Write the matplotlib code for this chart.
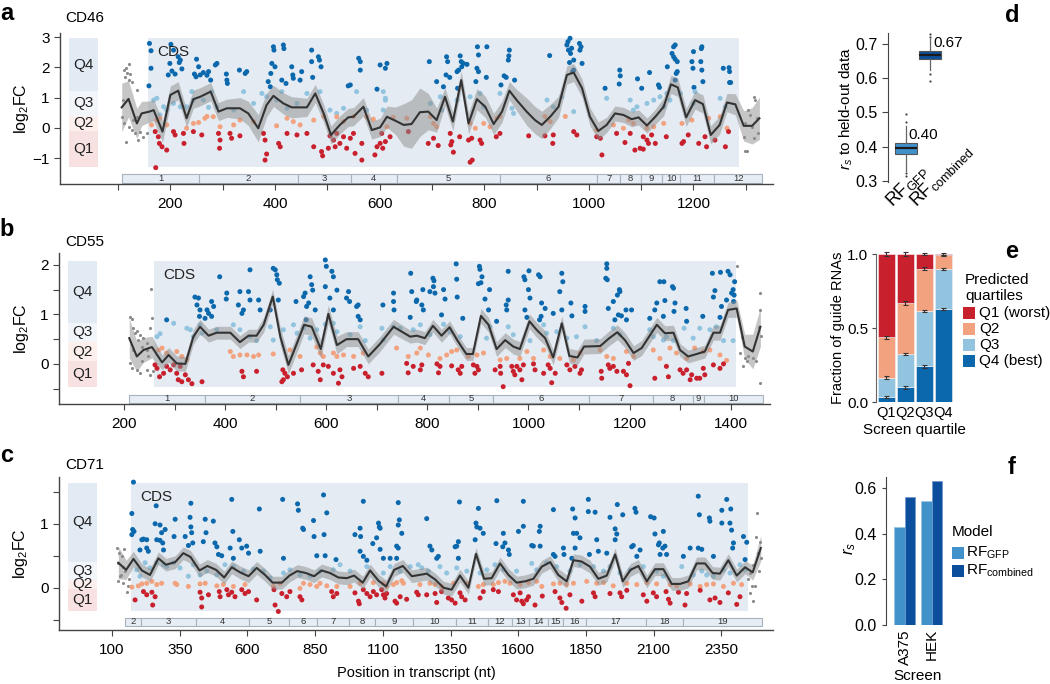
import matplotlib
matplotlib.use('Agg')
import matplotlib.pyplot as plt
from matplotlib.patches import Rectangle
import matplotlib.transforms as mtransforms
import numpy as np

plt.rcParams['font.family'] = ['Liberation Sans', 'DejaVu Sans']
plt.rcParams['mathtext.fontset'] = 'custom'
plt.rcParams['mathtext.rm'] = 'Liberation Sans'
plt.rcParams['mathtext.it'] = 'Liberation Sans:italic'
plt.rcParams['mathtext.bf'] = 'Liberation Sans:bold'

# ----------------------------------------------------------------- data
# panel a: CD46 (position nt, log2FC)
points_a = [
    (107,0.35),(109,0.92),(112,1.91),(112,0.15),(113,1.69),(115,1.97),(115,-0.45),(117,1.83),(120,2.10),(120,1.58),(120,0.04),
    (123,1.78),(126,1.53),(126,-0.07),(129,0.26),(133,-0.18),(136,1.25),(136,0.37),(139,-0.40),(142,-0.12),(148,-0.29),(155,-0.18),
    (160,2.79),(163,2.55),(163,1.97),(159,1.39),(201,2.76),(206,2.57),(215,2.35),(219,2.24),(217,2.16),(222,1.95),(199,2.13),(203,1.88),
    (209,1.78),(196,1.75),(250,2.27),(254,2.02),(246,1.78),(249,1.69),(257,1.75),(263,1.83),(270,1.74),(273,1.86),(277,1.58),(286,2.08),
    (289,2.13),(307,1.78),(308,1.58),(309,1.47),(332,1.91),(343,1.80),(346,1.86),(397,2.68),(398,2.57),(400,2.02),(394,2.13),(392,1.80),
    (387,1.53),(391,1.36),(416,2.74),(417,2.62),(413,1.58),(421,1.47),(432,2.02),(434,1.75),(435,1.64),(451,1.86),(448,1.58),(470,2.57),
    (470,2.19),(472,1.67),(483,2.35),(485,2.24),(488,2.02),(560,2.30),(563,2.19),(563,1.91),(544,1.42),(540,1.39),(601,2.08),(595,1.28),
    (168,0.92),(174,0.98),(187,0.70),(193,0.59),(180,0.43),(206,0.81),(219,0.70),(231,0.70),(244,0.92),(241,1.20),(263,0.92),(273,0.68),
    (279,1.20),(289,0.70),(321,0.59),(340,1.20),(359,0.81),(375,1.14),(384,1.03),(403,0.92),(413,1.20),(423,0.65),(442,0.81),(461,1.14),
    (486,1.20),(505,0.59),(518,0.48),(531,0.65),(556,1.20),(575,0.59),(611,0.98),
    (164,0.10),(174,0.26),(180,0.32),(193,0.10),(231,-0.01),(244,0.15),(254,0.18),(266,0.32),(270,0.38),(282,0.37),(295,0.04),(321,0.10),
    (333,0.26),(359,0.21),(403,0.07),(423,0.32),(435,0.21),(448,0.10),(474,0.26),(493,0.38),(518,0.37),(531,0.21),(550,0.38),(575,0.37),
    (588,0.29),(626,0.35),
    (171,-0.12),(177,-0.29),(179,-0.51),(184,-0.62),(193,-0.73),(172,-1.31),(206,-0.12),(209,-0.23),(225,-0.18),(226,-0.51),(244,-0.12),
    (260,-0.23),(292,-0.18),(294,-0.67),(295,-0.40),(314,-0.18),(317,-0.34),(333,-0.26),(378,-0.18),(381,-0.40),(384,-0.86),(381,-1.06),
    (407,-0.51),(410,-0.62),(423,-0.18),(442,-0.23),(461,-0.18),(474,-0.62),(489,-0.78),(491,-0.92),(502,-0.67),(505,-0.26),(512,-0.40),
    (515,-0.62),(518,-0.18),(524,-0.51),(531,-0.29),(537,-0.67),(544,-0.34),(550,-0.18),(553,-0.84),(566,-1.06),(566,-0.51),(591,-0.89),
    (595,-0.62),(601,-0.51),(620,-0.29),
    (611,1.97),(614,2.13),(695,2.19),(709,1.53),(722,1.36),(728,2.35),(730,2.19),(727,1.75),(734,1.67),(754,2.38),(756,2.19),(748,1.86),
    (751,1.91),(757,2.02),(760,2.13),(767,2.10),(749,1.31),(787,2.68),(789,2.41),(786,1.97),(789,1.86),(784,1.53),(805,2.68),(804,1.67),
    (838,1.72),(842,1.67),(832,1.42),(848,2.57),(847,2.38),(846,2.24),(858,1.58),(925,2.39),(958,2.74),(960,2.85),(964,2.96),(961,2.57),
    (967,2.63),(965,2.46),(963,2.16),(971,2.24),(982,2.79),(983,2.57),(985,2.68),(987,2.13),(971,1.91),(969,1.86),(1031,1.31),(1059,1.91),
    (1060,1.72),(1058,1.45),(1093,1.62),(1101,1.31),(1116,1.83),(1133,1.42),(1135,1.34),(1150,2.02),(1162,2.68),(1165,2.74),(1159,2.46),
    (1162,2.35),(1165,2.27),(1169,2.19),(1167,1.80),(1169,1.86),(1165,1.58),(1197,2.19),(1199,1.97),(1200,2.52),(1216,2.68),(1215,2.62),
    (1214,2.19),(1216,1.91),(1218,1.53),(1201,1.34),(1257,1.97),(1268,1.99),(1269,1.86),(1269,1.50),(1271,1.50),
    (607,1.20),(611,0.92),(607,0.59),(697,0.81),(716,1.03),(719,0.59),(748,0.92),(773,1.03),(792,1.14),(799,0.70),(830,1.14),(853,0.65),
    (856,0.48),(920,0.92),(932,0.70),(948,1.03),(971,0.54),(1034,0.98),(1079,0.92),(1085,0.59),(1092,0.70),(1111,0.81),(1124,0.92),
    (1136,1.03),(1143,0.70),(1149,1.14),(1155,0.92),(1175,1.14),(1200,0.81),(1203,1.20),(1251,0.98),(1261,0.70),
    (614,0.04),(652,0.32),(697,0.37),(703,0.15),(709,0.04),(773,0.15),(783,-0.01),(799,0.15),(811,0.04),(824,0.32),(830,0.38),(916,0.38),
    (926,0.21),(955,0.38),(1015,-0.07),(1047,0.10),(1066,-0.01),(1076,0.26),(1085,0.15),(1111,-0.01),(1124,0.04),(1143,0.15),(1178,0.15),
    (1197,0.26),(1229,0.32),(1251,0.37),(1264,-0.01),
    (604,-0.18),(606,-0.67),(611,-0.45),(655,-0.12),(693,-0.51),(703,-0.34),(712,-0.58),(735,-0.18),(738,-0.45),(741,-0.80),(736,-0.56),
    (753,-0.29),(773,-1.13),(777,-1.06),(770,-0.40),(776,-0.34),(792,-0.40),(795,-0.51),(823,-0.29),(830,-0.18),(885,-0.26),(916,-0.26),
    (931,-0.51),(932,-0.23),(971,-0.12),(977,-0.23),(1015,-0.29),(1025,-0.89),(1022,-0.34),(1053,-0.18),(1069,-0.48),(1079,-0.18),
    (1088,-0.73),(1098,-0.67),(1104,-0.70),(1104,-0.29),(1111,-0.40),(1114,-0.51),(1120,-0.23),(1127,-0.51),(1148,-0.29),(1178,-0.51),
    (1181,-0.45),(1190,-0.23),(1210,-0.51),(1222,-0.29),(1225,-0.62),(1241,-0.40),(1261,-0.62),(1267,-0.12),
    (1315,1.03),(1305,0.59),(1308,0.43),(1321,0.32),(1299,0.15),(1312,0.04),(1324,-0.18),(1296,-0.29),(1315,-0.34),(1299,-0.75),
    (1302,-0.76),(1318,0.92),
]
# smoothed trend: (position, mean log2FC, half width of band)
trend_a = [
    (107,0.68,0.8),(120,0.96,0.6),(136,0.15,0.5),(145,0.48,0.4),(160,0.54,0.35),(168,0.59,0.35),(185,-0.12,0.35),(200,1.09,0.3),
    (215,1.23,0.3),(231,0.32,0.3),(244,0.95,0.3),(257,1.03,0.3),(277,1.20,0.3),(292,0.54,0.3),(308,0.65,0.3),(333,0.65,0.35),
    (349,0.48,0.4),(368,-0.01,0.45),(384,0.76,0.4),(397,1.06,0.35),(416,0.81,0.35),(432,0.68,0.35),(461,0.68,0.3),(477,1.14,0.3),
    (493,0.48,0.3),(507,-0.23,0.3),(524,0.10,0.3),(540,0.35,0.3),(550,0.37,0.3),(569,0.70,0.3),(585,-0.07,0.3),(601,0.02,0.3),
    (614,0.37,0.35),(630,0.24,0.45),(646,0.10,0.7),(661,0.13,0.8),(677,0.52,0.8),(693,0.54,0.6),(709,0.26,0.4),(725,1.03,0.3),
    (740,0.21,0.3),(756,1.58,0.3),(770,0.15,0.35),(786,0.95,0.35),(802,0.70,0.35),(818,0.13,0.35),(834,0.54,0.35),(848,1.23,0.3),
    (862,0.92,0.35),(881,0.54,0.45),(897,0.26,0.45),(910,0.10,0.45),(926,0.37,0.4),(942,0.70,0.35),(958,1.75,0.3),(971,1.83,0.3),
    (987,1.31,0.3),(1002,0.37,0.3),(1018,-0.10,0.3),(1034,0.10,0.25),(1050,0.48,0.25),(1066,0.43,0.25),(1082,0.29,0.25),
    (1095,0.35,0.25),(1111,0.08,0.25),(1127,0.37,0.25),(1143,0.70,0.3),(1157,1.44,0.3),(1170,1.34,0.3),(1186,0.35,0.3),
    (1203,0.92,0.3),(1218,0.79,0.3),(1233,-0.23,0.3),(1250,0.10,0.3),(1264,0.84,0.3),(1280,0.78,0.35),(1296,0.07,0.5),
    (1312,0.07,0.6),(1326,0.32,0.7),
]
cds_a = (157, 1287)
quartiles_a = [-1.29, -0.10, 0.40, 1.22, 2.97]
exons_a = [108, 255, 444, 545, 633, 830, 1016, 1060, 1100, 1140, 1175, 1240, 1331]

# panel b: CD55
points_b = [
    (212,0.94),(215,0.90),(218,0.72),(225,0.67),(222,0.62),(232,0.59),(228,0.48),(238,0.52),(245,0.42),(235,0.35),(245,0.28),(251,0.72),
    (255,0.92),(253,1.51),(215,-0.09),(225,-0.12),(232,-0.19),(245,-0.12),(251,-0.22),(257,-0.15),(218,0.28),(248,0.15),(212,0.01),(235,0.05),
    (284,0.89),(340,1.35),(347,1.33),(344,1.19),(350,1.09),(349,0.96),(364,1.09),(367,1.02),(360,0.92),(373,1.26),(377,1.16),(373,0.96),
    (403,1.43),(402,1.31),(389,1.76),(429,1.46),(426,1.19),(433,1.02),(436,1.09),(446,1.46),(449,1.90),(449,1.29),(466,1.29),(469,1.09),
    (495,1.93),(499,1.90),(502,1.80),(503,1.70),(507,1.63),(489,1.09),(505,1.29),(540,1.26),(555,1.36),(558,1.43),(561,1.16),(560,0.89),
    (568,1.76),(571,1.60),(573,1.49),(565,1.23),(578,1.09),(598,2.10),(600,1.97),(598,1.56),(607,1.33),(611,1.87),(614,1.76),(621,1.49),
    (614,1.09),(640,1.33),(644,1.46),(646,1.26),(660,1.16),(663,0.96),(667,0.89),(663,1.19),(712,1.19),
    (265,0.55),(271,0.61),(298,0.82),(324,0.72),(331,0.69),(337,0.55),(350,0.79),(354,0.62),(383,0.69),(416,0.79),(429,0.69),(449,0.55),
    (462,0.47),(489,0.75),(495,0.48),(515,0.69),(535,0.79),(542,0.62),(555,0.72),(568,0.52),(581,0.69),(598,0.80),(614,0.82),(621,0.65),
    (647,0.59),(667,0.75),(677,0.47),(713,0.48),(733,0.75),
    (268,0.28),(275,0.32),(284,0.22),(304,0.25),(314,0.15),(324,0.08),(410,0.25),(416,0.15),(429,0.18),(443,0.18),(456,0.15),(466,0.18),
    (495,0.20),(528,0.28),(548,0.15),(581,0.34),(588,0.22),(594,0.15),(614,0.22),(621,0.15),(634,0.18),(654,0.15),(673,0.22),
    (261,-0.02),(265,-0.09),(270,-0.26),(278,-0.19),(284,-0.05),(291,-0.12),(298,-0.02),(304,-0.19),(311,-0.05),(307,-0.32),(314,-0.36),
    (321,-0.22),(327,-0.32),(334,-0.40),(354,-0.36),(433,-0.15),(436,-0.26),(462,-0.15),(514,-0.12),(518,-0.19),(523,-0.26),(515,-0.32),
    (512,-0.36),(535,-0.19),(551,-0.12),(574,-0.02),(584,-0.15),(588,-0.32),(594,-0.02),(604,-0.05),(614,-0.19),(624,-0.39),(627,-0.12),
    (631,-0.26),(654,-0.09),(667,-0.05),(677,-0.19),(683,-0.26),
    (733,1.43),(733,1.26),(734,1.09),(767,1.83),(769,1.46),(766,0.94),(779,1.29),(778,1.26),(791,1.50),(789,1.19),(792,1.09),(805,1.46),
    (811,1.73),(813,1.68),(812,1.56),(815,1.43),(832,1.50),(835,1.31),(828,0.99),(857,2.02),(858,1.71),(859,1.35),(870,0.92),(903,1.97),
    (904,1.91),(908,1.76),(906,1.64),(901,1.62),(914,1.31),(923,1.50),(921,1.09),(937,0.86),(960,1.87),(960,1.29),(956,1.19),(957,1.09),
    (991,1.76),(993,1.70),(1001,1.88),(1000,1.50),(1003,1.33),(993,1.09),(997,0.94),(1020,1.80),(1023,1.76),(1026,1.23),(1022,0.89),
    (1025,0.96),(1033,1.12),(1049,1.02),(1066,1.83),(1068,1.66),(1062,1.46),(1066,1.09),(1084,1.23),(1086,0.97),(1112,1.16),(1112,1.06),
    (1155,2.02),(1155,1.93),(1153,1.73),(1156,1.70),(1158,1.12),(1168,1.26),(1176,1.39),(1180,1.50),(1181,1.46),(1171,0.89),(1178,0.99),
    (1184,0.97),(1194,0.89),(1204,1.09),(1193,1.09),(1240,0.92),(1250,1.09),(1254,1.23),(1260,1.66),(1268,1.66),(1270,1.28),(1267,0.96),
    (1285,1.56),(1287,1.53),(1290,1.23),(1288,1.06),(1312,1.12),(1313,0.86),(1345,0.96),(1364,1.83),(1369,1.48),(1366,1.35),(1380,1.85),
    (1382,1.16),(1379,0.94),(1395,1.87),(1399,1.80),(1402,1.43),(1405,1.50),(1406,1.26),(1408,1.66),(1407,1.39),(1392,1.29),
    (710,0.72),(746,0.72),(772,0.69),(786,0.79),(805,0.59),(832,0.80),(845,0.65),(865,0.55),(917,0.52),(924,0.75),(960,0.75),(970,0.59),
    (1003,0.47),(1030,0.79),(1036,0.62),(1056,0.65),(1076,0.52),(1095,0.55),(1112,0.75),(1135,0.47),(1168,0.72),(1181,0.59),(1240,0.69),
    (1247,0.55),(1267,0.48),(1273,0.55),(1287,0.47),(1308,0.72),(1326,0.52),(1339,0.72),(1359,0.69),(1372,0.75),(1386,0.47),(1405,0.47),
    (739,0.32),(762,0.15),(779,0.22),(786,0.32),(802,0.18),(825,0.11),(838,0.18),(848,0.25),(858,0.28),(881,0.15),(898,0.18),(911,0.22),
    (944,0.08),(957,0.11),(983,0.11),(997,0.25),(1010,0.11),(1030,0.28),(1043,0.15),(1062,0.11),(1089,0.08),(1102,0.22),(1142,0.28),
    (1155,0.15),(1168,0.11),(1194,0.25),(1208,0.15),(1247,0.28),(1260,0.11),(1280,0.32),(1293,0.22),(1313,0.11),(1329,0.32),(1346,0.25),
    (1359,0.28),(1379,0.18),(1392,0.07),
    (710,-0.19),(759,0.01),(762,-0.18),(772,-0.05),(786,-0.12),(789,-0.02),(819,0.00),(822,-0.18),(825,-0.05),(848,-0.04),(861,-0.12),
    (865,-0.19),(868,-0.05),(891,-0.02),(894,-0.19),(898,-0.05),(901,-0.12),(934,-0.12),(944,-0.05),(945,-0.19),(950,-0.46),(967,-0.05),
    (970,-0.15),(973,-0.22),(977,-0.05),(983,-0.12),(987,-0.32),(990,-0.02),(1010,0.00),(1013,-0.12),(1030,-0.19),(1039,-0.02),
    (1043,-0.09),(1046,-0.38),(1053,-0.19),(1076,-0.02),(1082,-0.12),(1092,-0.05),(1102,-0.19),(1105,-0.12),(1144,-0.15),(1145,-0.29),
    (1158,-0.02),(1161,-0.09),(1168,-0.05),(1175,-0.15),(1188,-0.15),(1194,-0.22),(1201,-0.44),(1198,0.01),(1250,-0.29),(1273,-0.05),
    (1277,-0.26),(1300,-0.12),(1306,-0.19),(1313,-0.12),(1320,-0.32),(1323,-0.22),(1333,-0.29),(1339,-0.29),(1346,-0.09),(1349,-0.22),
    (1366,-0.02),(1386,0.00),(1379,-0.09),
    (1412,1.97),(1458,1.44),(1459,1.08),(1457,0.75),(1461,0.57),(1422,0.55),(1418,0.22),(1428,0.11),(1432,0.05),(1425,-0.05),
    (1451,0.05),(1458,-0.39),(1445,0.11),(1435,0.15),
]
trend_b = [
    (210,0.52,0.40),(225,0.15,0.30),(238,0.28,0.25),(255,0.34,0.22),(275,0.03,0.15),(288,0.18,0.15),(304,0.01,0.15),(321,0.00,0.15),
    (337,0.55,0.15),(350,0.75,0.15),(367,0.57,0.13),(383,0.63,0.13),(410,0.63,0.13),(429,0.44,0.13),(446,0.57,0.13),(462,0.57,0.13),
    (476,0.79,0.15),(494,1.36,0.15),(509,0.55,0.18),(525,-0.02,0.18),(542,0.42,0.18),(556,0.79,0.18),(571,0.75,0.18),(589,0.30,0.18),
    (604,1.01,0.18),(621,0.38,0.18),(640,0.50,0.15),(663,0.50,0.15),(683,0.15,0.15),(706,0.40,0.15),(733,0.75,0.15),(766,0.55,0.13),
    (779,0.57,0.13),(795,0.52,0.13),(811,0.77,0.13),(828,0.57,0.13),(844,0.74,0.13),(859,0.48,0.13),(877,0.20,0.13),(890,0.20,0.13),
    (906,0.97,0.15),(921,0.79,0.15),(937,0.30,0.15),(954,0.48,0.15),(970,0.35,0.15),(983,0.30,0.15),(1002,0.86,0.15),(1016,0.69,0.15),
    (1033,0.52,0.15),(1049,0.13,0.15),(1066,0.82,0.15),(1081,0.16,0.15),(1097,0.13,0.15),(1110,0.35,0.15),(1142,0.36,0.15),
    (1160,0.52,0.15),(1176,0.64,0.15),(1191,0.48,0.15),(1208,0.22,0.15),(1224,0.32,0.15),(1254,0.79,0.15),(1270,0.62,0.15),
    (1287,0.63,0.15),(1300,0.28,0.13),(1316,0.15,0.13),(1333,0.20,0.13),(1349,0.25,0.13),(1366,0.63,0.15),(1379,0.63,0.15),
    (1395,1.09,0.15),(1412,1.12,0.18),(1428,0.35,0.25),(1444,0.25,0.35),(1459,0.75,0.40),
]
cds_b = (259, 1410)
quartiles_b = [-0.46, 0.05, 0.45, 0.83, 2.08]
exons_b = [210, 360, 548, 742, 843, 930, 1120, 1246, 1325, 1347, 1464]

# panel c: CD71
points_c = [
    (120,0.62),(127,0.54),(144,0.60),(136,0.49),(123,0.39),(139,0.33),(148,0.26),(130,0.18),(123,0.10),(142,0.07),(160,0.02),(154,-0.06),
    (132,0.20),(164,0.13),
    (179,1.65),(173,1.16),(176,0.91),(181,0.88),(173,0.83),(203,0.59),(210,0.75),(216,0.76),(228,0.75),(228,0.62),(234,0.57),(259,1.00),
    (263,1.28),(277,0.98),(283,0.86),(265,0.75),(277,0.74),(287,0.70),(296,0.91),(290,0.59),(333,1.07),(329,0.80),(370,0.80),(388,1.10),
    (391,1.32),(391,0.95),(394,0.86),(398,0.70),(382,0.66),(437,0.72),(444,1.07),(447,0.86),(474,1.04),(480,0.70),(487,0.64),(493,0.52),
    (505,0.50),(536,0.62),(542,1.38),(546,0.88),(548,0.46),(570,0.75),(579,0.62),(597,0.65),(604,0.54),(644,1.23),(647,0.57),(730,1.38),
    (733,0.46),(785,1.31),(788,1.21),(804,0.93),(807,0.91),(844,1.05),(846,0.80),(856,0.50),(881,1.45),(883,0.83),(887,0.50),(893,1.17),
    (927,0.44),(997,0.83),(1016,0.93),(1018,0.80),(1028,1.35),(1016,0.57),(1028,0.49),(1041,0.43),(1063,0.69),(1077,0.78),(1084,1.01),
    (1087,0.95),(1090,0.60),(1102,0.46),(1127,0.46),
    (1157,1.33),(1161,1.06),(1157,0.98),(1170,0.85),(1151,0.65),(1157,0.62),(1151,0.46),(1090,0.93),(1262,1.08),(1274,0.65),(1281,0.59),
    (1299,0.46),(1305,0.49),(1383,1.34),(1379,0.72),(1373,0.65),(1367,0.64),(1379,0.46),(1441,0.75),(1444,1.01),(1447,0.95),(1453,1.24),
    (1459,0.93),(1471,0.85),(1521,1.36),(1518,0.69),(1545,0.85),(1551,0.70),(1543,0.64),(1564,0.59),(1567,0.52),(1601,0.88),(1619,1.35),
    (1619,0.96),(1650,0.66),(1656,0.65),(1681,0.96),(1678,0.88),(1681,0.65),(1730,1.22),(1730,0.52),(1736,0.49),(1767,0.62),(1769,0.52),
    (1801,1.23),(1810,1.09),(1804,0.85),(1816,0.85),(1828,0.78),(1810,0.62),(1798,0.46),(1859,1.38),(1859,1.19),(1884,1.18),(1863,0.52),
    (1890,0.75),(1896,0.57),(1927,0.54),(1939,1.10),(1958,0.92),(1964,0.84),(1966,1.30),(1958,0.75),(1986,1.14),(2019,0.64),(2025,0.66),
    (2031,1.24),(2035,1.18),(2038,0.49),(2050,0.59),(2089,1.11),(2102,1.09),(2105,0.84),(2118,0.67),(2124,0.52),(2136,0.88),(2121,0.70),
    (2134,0.62),(2142,0.65),(2148,0.52),(2210,0.49),(2235,0.62),(2265,1.43),(2269,1.14),(2265,0.62),(2278,0.60),(2306,1.09),(2308,1.04),
    (2321,0.49),(2352,1.21),(2370,1.38),(2385,1.23),(2352,1.01),(2382,1.01),(2388,0.90),(2395,0.70),(2392,0.62),(2432,0.80),(2444,0.71),
    (2438,0.44),
    (191,0.28),(203,0.18),(222,0.39),(240,0.31),(265,0.39),(290,0.36),(302,0.33),(327,0.39),(351,0.31),(382,0.18),(400,0.36),(425,0.20),
    (450,0.26),(487,0.20),(517,0.36),(548,0.33),(585,0.26),(622,0.29),(659,0.26),(684,0.15),(733,0.23),(757,0.28),(794,0.20),(831,0.18),
    (868,0.26),(917,0.28),(942,0.36),(979,0.26),(1041,0.33),
    (1102,0.23),(1127,0.33),(1164,0.26),(1201,0.33),(1231,0.36),(1244,0.31),(1268,0.26),(1311,0.33),(1336,0.23),(1373,0.31),(1410,0.26),
    (1459,0.23),(1484,0.28),(1514,0.36),(1545,0.28),(1594,0.26),(1650,0.38),(1668,0.28),(1705,0.39),(1742,0.33),(1791,0.26),(1828,0.36),
    (1878,0.33),(1915,0.26),(1939,0.33),(1976,0.23),(2013,0.28),(2062,0.33),(2111,0.26),(2136,0.18),(2204,0.33),(2247,0.20),(2278,0.26),
    (2296,0.20),(2321,0.18),(2358,0.28),(2382,0.23),(2419,0.36),(2438,0.28),
    (173,0.01),(197,0.03),(210,0.06),(228,0.07),(247,0.10),(265,0.05),(283,0.07),(333,0.07),(339,0.05),(382,0.02),(425,0.06),(444,0.07),
    (487,0.03),(511,0.05),(548,0.02),(591,0.05),(696,0.02),(720,0.07),(794,-0.01),(807,0.07),(831,0.05),(856,0.02),(868,0.07),(893,0.03),
    (930,0.02),(979,0.02),(1016,0.07),(1065,0.08),(1102,0.07),(1151,0.08),
    (1114,0.02),(1139,0.05),(1170,0.11),(1176,0.07),(1237,0.05),(1274,0.07),(1293,0.05),(1317,0.02),(1361,0.07),(1410,0.07),(1453,0.02),
    (1471,0.05),(1508,0.05),(1527,0.08),(1551,0.10),(1570,0.07),(1607,0.05),(1638,0.08),(1668,0.10),(1687,0.02),(1730,0.06),(1754,0.07),
    (1779,0.05),(1804,0.07),(1853,0.10),(1890,0.07),(1915,0.08),(1951,0.03),(2001,0.07),(2038,0.05),(2075,0.08),(2111,0.06),(2161,0.05),
    (2185,0.03),(2235,0.06),(2272,0.02),(2296,0.05),(2321,0.06),(2358,0.02),(2395,0.07),(2425,0.05),
    (185,-0.19),(216,-0.06),(228,-0.11),(247,-0.07),(250,-0.27),(259,-0.14),(425,-0.07),(431,-0.16),(431,-0.30),(456,-0.11),(496,-0.06),
    (499,-0.14),(524,-0.03),(530,-0.11),(542,-0.07),(554,-0.14),(579,-0.03),(591,-0.09),(604,-0.06),(634,-0.19),(698,-0.03),(702,-0.27),
    (714,-0.37),(727,-0.09),(745,-0.14),(757,-0.06),(794,-0.14),(801,-0.19),(911,-0.06),(917,-0.14),(930,-0.09),(997,-0.08),(1010,-0.21),
    (1013,-0.25),(1028,-0.03),(1041,-0.09),(1053,-0.14),(1065,-0.06),(1077,-0.11),(1114,-0.09),
    (1096,-0.03),(1102,-0.11),(1108,-0.16),(1145,-0.21),(1151,-0.24),(1164,-0.14),(1188,-0.18),(1225,-0.07),(1231,-0.11),(1262,-0.11),
    (1293,-0.09),(1299,-0.23),(1317,-0.06),(1342,-0.16),(1354,-0.19),(1367,-0.24),(1385,-0.08),(1391,-0.14),(1404,-0.19),(1459,-0.16),
    (1471,-0.06),(1508,-0.03),(1527,-0.06),(1582,-0.11),(1594,-0.19),(1607,-0.08),(1613,-0.21),(1619,-0.25),(1631,-0.19),(1638,-0.14),
    (1662,-0.27),(1689,-0.13),(1736,-0.06),(1754,-0.16),(1761,-0.23),(1777,-0.32),(1791,-0.11),(1835,-0.21),(1878,-0.08),(1884,-0.14),
    (1939,-0.09),(1976,-0.08),(1982,-0.14),(2001,-0.04),(2062,-0.11),(2075,-0.21),(2099,-0.08),(2111,-0.14),(2146,-0.06),(2155,-0.18),
    (2161,-0.24),(2192,-0.07),(2216,-0.27),(2222,-0.09),(2272,-0.04),(2308,-0.19),(2327,-0.16),(2345,-0.23),(2376,-0.08),(2407,-0.26),
    (2419,-0.14),
    (2481,1.17),(2478,0.80),(2493,0.72),(2487,0.54),(2468,0.36),(2456,0.23),(2450,0.13),(2462,0.02),(2456,-0.08),(2466,-0.20),
    (2475,0.02),(2491,0.26),(2496,0.46),
]
trend_c = [
    (123,0.39,0.25),(152,0.28,0.15),(179,0.45,0.12),(210,0.27,0.1),(240,0.20,0.1),(271,0.46,0.1),(299,0.36,0.1),(333,0.40,0.1),
    (363,0.54,0.1),(390,0.48,0.1),(423,0.27,0.1),(452,0.34,0.1),(484,0.28,0.1),(514,0.16,0.1),(542,0.32,0.1),(573,0.24,0.1),
    (604,0.18,0.1),(634,0.31,0.1),(665,0.20,0.1),(693,0.08,0.1),(727,0.08,0.1),(755,0.19,0.1),(784,0.26,0.1),(816,0.23,0.1),
    (846,0.18,0.1),(874,0.27,0.1),(905,0.23,0.1),(936,0.16,0.1),(967,0.15,0.1),(994,0.19,0.1),(1026,0.08,0.1),(1053,0.27,0.1),
    (1084,0.11,0.1),(1112,0.02,0.1),(1142,0.28,0.1),(1174,0.34,0.1),(1207,0.18,0.1),(1235,0.20,0.1),(1262,0.22,0.1),(1293,0.13,0.1),
    (1324,0.00,0.1),(1354,-0.03,0.1),(1385,0.19,0.1),(1416,0.00,0.1),(1444,0.53,0.1),(1474,0.14,0.1),(1502,0.15,0.1),(1533,0.38,0.1),
    (1564,0.20,0.1),(1594,0.08,0.1),(1625,0.10,0.1),(1656,0.14,0.1),(1687,0.33,0.1),(1718,0.40,0.1),(1748,0.20,0.1),(1779,0.10,0.1),
    (1804,0.43,0.1),(1834,0.41,0.1),(1865,0.33,0.1),(1896,0.14,0.1),(1927,0.19,0.1),(1958,0.52,0.1),(1986,0.10,0.1),(2015,0.28,0.1),
    (2044,0.34,0.1),(2075,0.10,0.1),(2105,0.29,0.1),(2136,0.29,0.1),(2167,0.06,0.1),(2198,0.06,0.1),(2228,0.10,0.1),(2259,0.38,0.1),
    (2290,0.38,0.1),(2318,0.23,0.1),(2345,0.22,0.1),(2376,0.43,0.1),(2407,0.19,0.1),(2438,0.32,0.1),(2466,0.24,0.12),(2496,0.62,0.2),
]
cds_c = (170, 2449)
quartiles_c = [-0.36, -0.02, 0.125, 0.41, 1.64]
exons_c = [148, 207, 410, 606, 754, 857, 975, 1071, 1211, 1370, 1488, 1577, 1640, 1710, 1765, 1850, 2072, 2209, 2500]

# panel d: Spearman r of models on held-out data (box summaries)
models_d = ['GFP', 'combined']
box_q1 = [0.378, 0.655]
box_med = [0.395, 0.667]
box_q3 = [0.412, 0.680]
box_lo = [0.330, 0.624]
box_hi = [0.460, 0.713]
box_fliers = [[0.473, 0.494, 0.324, 0.315], [0.720, 0.728, 0.612, 0.590]]
box_means = ['0.40', '0.67']

# panel e: predicted quartile fractions per screen quartile
screen_q = ['Q1', 'Q2', 'Q3', 'Q4']
frac_q4 = [0.035, 0.100, 0.242, 0.630]
frac_q3 = [0.130, 0.225, 0.371, 0.268]
frac_q2 = [0.272, 0.343, 0.288, 0.092]
frac_q1 = [0.563, 0.332, 0.099, 0.010]
err_q4 = [0.007, 0.010, 0.010, 0.005]
err_q3 = [0.008, 0.008, 0.007, 0.007]
err_q2 = [0.008, 0.012, 0.010, 0.006]
err_q1 = [0.015, 0.016, 0.007, 0.006]

# panel f: r_s in two screens
screens_f = ['A375', 'HEK']
rs_gfp = [0.43, 0.543]
rs_comb = [0.56, 0.632]

# ----------------------------------------------------------------- style
Q_PT = ['#c9202e', '#f3a27f', '#92c4df', '#0b68ad']     # Q1..Q4 points
Q_BOX = ['#f7e1e1', '#fcefec', '#f2f6fa', '#e2ebf4']   # Q1..Q4 side boxes
CDS_BG = '#e4ebf2'
GRAY_PT = '#8a8a8a'
C_GFP = '#4191cb'
C_COMB = '#0b4f9c'
TICK_R = 11.5

W, H = 1050, 684
fig = plt.figure(figsize=(W / 100, H / 100), dpi=100)


def fax(l, t, r, b):
    return fig.add_axes([l / W, 1 - b / H, (r - l) / W, (b - t) / H])


def ftext(x, y, s, **kw):
    fig.text(x / W, 1 - y / H, s, **kw)


def gene_panel(ax, pts, trend, cds, qb, exons, first_exon, exy, xlim, ylim,
               xticks, xlabs, yticks, ylabs):
    ax.set_xlim(*xlim)
    ax.set_ylim(*ylim)
    ax.add_patch(Rectangle((cds[0], qb[0]), cds[1] - cds[0], qb[4] - qb[0],
                           fc=CDS_BG, ec='none', zorder=0))
    ax.annotate('CDS', xy=(cds[0], qb[4]), xytext=(7, -5), textcoords='offset points',
                ha='left', va='top', fontsize=11, color='#222', zorder=6)
    trans = mtransforms.blended_transform_factory(ax.transAxes, ax.transData)
    for i in range(4):
        ax.add_patch(Rectangle((0.0126, qb[i]), 0.0407, qb[i + 1] - qb[i], transform=trans,
                               fc=Q_BOX[i], ec='none', zorder=0, clip_on=False))
        ax.text(0.0330, (qb[i] + qb[i + 1]) / 2, 'Q%d' % (i + 1), transform=trans,
                ha='center', va='center', fontsize=11, color='#222')
    pos = np.array([p[0] for p in pts], float)
    val = np.array([p[1] for p in pts], float)
    inside = (pos >= cds[0]) & (pos <= cds[1])
    qidx = np.digitize(val, qb[1:4])
    ax.scatter(pos[~inside], val[~inside], s=5, c=GRAY_PT, lw=0, zorder=2)
    cols = [Q_PT[k] for k in qidx[inside]]
    ax.scatter(pos[inside], val[inside], s=13, c=cols, lw=0, zorder=2)
    tp = np.array([t[0] for t in trend], float)
    tm = np.array([t[1] for t in trend], float)
    tw = np.array([t[2] for t in trend], float)
    ax.fill_between(tp, tm - tw, tm + tw, color='#8e8e8e', alpha=0.5, lw=0, zorder=3)
    ax.plot(tp, tm, color='#333333', lw=1.5, zorder=4)
    for k in range(len(exons) - 1):
        ax.add_patch(Rectangle((exons[k], exy[0]), exons[k + 1] - exons[k], exy[1] - exy[0],
                               fc='#e6edf4', ec='#a8b2bc', lw=0.8, zorder=1))
        ax.text((exons[k] + exons[k + 1]) / 2, (exy[0] + exy[1]) / 2, str(first_exon + k),
                ha='center', va='center', fontsize=6.8, color='#333', zorder=2)
    for s in ['top', 'right']:
        ax.spines[s].set_visible(False)
    for s in ['left', 'bottom']:
        ax.spines[s].set_color('#444')
        ax.spines[s].set_linewidth(1.0)
    ax.set_xticks(xticks)
    ax.set_xticklabels(xlabs)
    ax.set_yticks(yticks)
    ax.set_yticklabels(ylabs)
    ax.tick_params(axis='x', labelsize=11, length=4, color='#444', pad=5)
    ax.tick_params(axis='y', labelsize=11, length=4, color='#444')
    ax.set_ylabel('log$_2$FC', fontsize=11.5, labelpad=4)
    ax.yaxis.set_label_coords(-0.040, 0.5)


# panel a
ax_a = fax(60, 33, 773, 184)
xt = list(range(100, 1301, 100))
gene_panel(ax_a, points_a, trend_a, cds_a, quartiles_a, exons_a, 1, (-1.815, -1.518),
           (-11, 1352), (-1.85, 3.135), xt, [str(v) if v % 200 == 0 else '' for v in xt],
           [-1, 0, 1, 2, 3], ['\u22121', '0', '1', '2', '3'])

# panel b
ax_b = fax(59, 253, 770, 404)
xt = list(range(200, 1401, 100))
gene_panel(ax_b, points_b, trend_b, cds_b, quartiles_b, exons_b, 1, (-0.788, -0.626),
           (71, 1478), (-0.81, 2.24), xt, [str(v) if v % 200 == 0 else '' for v in xt],
           [-0.5, 0, 0.5, 1, 1.5, 2], ['', '0', '', '1', '', '2'])

# panel c
ax_c = fax(59, 477, 773, 630)
xt = list(range(100, 2351, 250))
gene_panel(ax_c, points_c, trend_c, cds_c, quartiles_c, exons_c, 2, (-0.594, -0.469),
           (-96, 2541), (-0.66, 1.73), xt, [str(v) for v in xt],
           [-0.5, 0, 0.5, 1, 1.5], ['', '0', '', '1', ''])
ax_c.set_xlabel('Position in transcript (nt)', fontsize=10.5, labelpad=7)

# panel letters and gene names
for (x, y, s) in [(7, 14, 'a'), (7, 229, 'b'), (7, 456, 'c'), (1012, 15, 'd'), (1012, 252, 'e'), (1012, 468, 'f')]:
    ftext(x, y, s, fontsize=17, fontweight='bold', ha='center', va='center')
for (y, s) in [(18, 'CD46'), (242, 'CD55'), (465, 'CD71')]:
    ftext(65, y, s, fontsize=11, ha='left', va='center')

# panel d
ax_d = fax(888, 33, 960, 182)
stats = []
for i in range(2):
    stats.append(dict(med=box_med[i], q1=box_q1[i], q3=box_q3[i], whislo=box_lo[i],
                      whishi=box_hi[i], fliers=box_fliers[i]))
bp = ax_d.bxp(stats, positions=[1, 2], widths=0.92, patch_artist=True, showfliers=True,
              medianprops=dict(color='#1a1a1a', lw=1.6),
              whiskerprops=dict(color='#666', lw=0.9), capprops=dict(color='#666', lw=0),
              boxprops=dict(ec='#555', lw=0.8),
              flierprops=dict(marker='o', markersize=1.6, mfc='#444', mec='none'))
for patch, c in zip(bp['boxes'], [C_GFP, C_COMB]):
    patch.set_facecolor(c)
ax_d.set_xlim(0.25, 3.25)
ax_d.set_ylim(0.297, 0.731)
ax_d.set_yticks([0.3, 0.4, 0.5, 0.6, 0.7])
ax_d.set_xticks([])
for s in ['top', 'right', 'bottom']:
    ax_d.spines[s].set_visible(False)
ax_d.spines['left'].set_color('#444')
ax_d.tick_params(axis='y', labelsize=TICK_R, length=4, color='#444')
ax_d.text(1.08, 0.434, box_means[0], fontsize=11, ha='left', va='center')
ax_d.text(2.12, 0.701, box_means[1], fontsize=11, ha='left', va='center')
tr_d = mtransforms.blended_transform_factory(ax_d.transData, ax_d.transAxes)
for i, m in enumerate(models_d):
    ax_d.text(i + 1 - 0.55, -0.17, 'RF$_{\\mathrm{%s}}$' % m, transform=tr_d, rotation=45,
              rotation_mode='anchor', ha='left', va='baseline', fontsize=13)
ftext(846, 108, '$r_s$ to held-out data', rotation=90, fontsize=11, ha='center', va='center')

# panel e
ax_e = fax(876, 254, 953, 402)
xe = np.arange(len(screen_q))
bottom = np.zeros(len(screen_q))
for fr, er, c in [(frac_q4, err_q4, Q_PT[3]), (frac_q3, err_q3, Q_PT[2]),
                  (frac_q2, err_q2, Q_PT[1]), (frac_q1, err_q1, Q_PT[0])]:
    fr = np.array(fr)
    ax_e.bar(xe, fr, 0.9, bottom=bottom, color=c, ec='#f0f0f0', lw=0.4, zorder=1)
    top = bottom + fr
    ax_e.errorbar(xe, top, yerr=er, fmt='none', ecolor='#333', elinewidth=0.8, capsize=1.8,
                  capthick=0.8, zorder=3, clip_on=False)
    bottom = top
ax_e.set_xlim(-0.55, 3.5)
ax_e.set_ylim(0, 1.0)
ax_e.set_xticks(xe)
ax_e.set_xticklabels(screen_q)
ax_e.set_yticks([0, 0.5, 1.0])
ax_e.set_yticklabels(['0.0', '0.5', '1.0'])
for s in ['top', 'right', 'bottom']:
    ax_e.spines[s].set_visible(False)
ax_e.spines['left'].set_color('#666')
ax_e.tick_params(axis='y', labelsize=11, length=3, color='#444', pad=2.5)
ax_e.tick_params(axis='x', labelsize=10.5, length=0, pad=3)
ax_e.set_xlabel('Screen quartile', fontsize=11, labelpad=2)
ftext(838, 328, 'Fraction of guide RNAs', rotation=90, fontsize=10.5, ha='center', va='center')
ftext(965, 288, 'Predicted\nquartiles', fontsize=11, ha='left', va='center', linespacing=1.1)
for k, (lab, c) in enumerate([('Q1 (worst)', Q_PT[0]), ('Q2', Q_PT[1]), ('Q3', Q_PT[2]), ('Q4 (best)', Q_PT[3])]):
    yc = 313.5 + 15.7 * k
    fig.add_artist(Rectangle((963 / W, 1 - (yc + 6) / H), 12 / W, 12 / H, transform=fig.transFigure,
                             fc=c, ec='none'))
    ftext(979, yc, lab, fontsize=11, ha='left', va='center')

# panel f
ax_f = fax(886, 477, 950, 625)
xf = np.arange(len(screens_f))
ax_f.bar(xf - 0.195, rs_gfp, 0.39, color=C_GFP, ec='#9cc3e3', lw=0.5)
ax_f.bar(xf + 0.195, rs_comb, 0.39, color=C_COMB, ec='#6f9bd0', lw=0.5)
ax_f.set_xlim(-0.70, 1.67)
ax_f.set_ylim(0, 0.648)
ax_f.set_yticks([0, 0.2, 0.4, 0.6])
ax_f.set_yticklabels(['0.0', '0.2', '0.4', '0.6'])
ax_f.set_xticks(xf)
ax_f.set_xticklabels(screens_f, rotation=90)
for s in ['top', 'right', 'bottom']:
    ax_f.spines[s].set_visible(False)
ax_f.spines['left'].set_color('#444')
ax_f.tick_params(axis='y', labelsize=TICK_R, length=3, color='#444')
ax_f.tick_params(axis='x', labelsize=11, length=0, pad=3)
ax_f.set_xlabel('Screen', fontsize=11, labelpad=3)
ftext(850, 548, '$r_s$', rotation=90, fontsize=12, ha='center', va='center')
ftext(952, 532, 'Model', fontsize=11, ha='left', va='center')
for k, (lab, c) in enumerate([('RF$_{\\mathrm{GFP}}$', C_GFP), ('RF$_{\\mathrm{combined}}$', C_COMB)]):
    yc = 553 + 17.5 * k
    fig.add_artist(Rectangle((952 / W, 1 - (yc + 6) / H), 12 / W, 12 / H, transform=fig.transFigure,
                             fc=c, ec='none'))
    ftext(966, yc, lab, fontsize=11, ha='left', va='center')

fig.savefig('out.png', dpi=100)
